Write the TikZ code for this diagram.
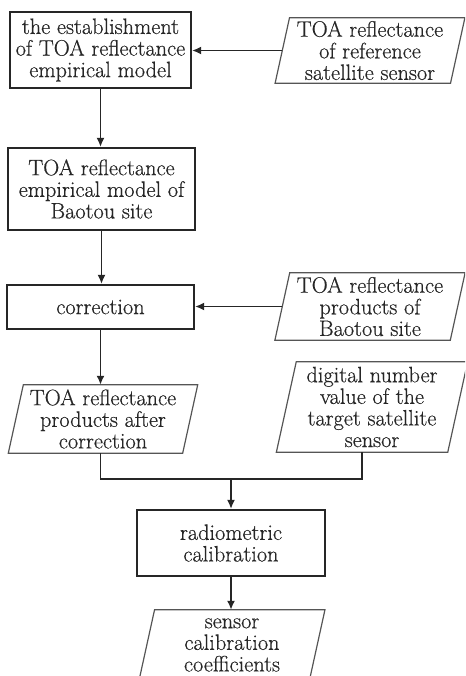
\documentclass[tikz,border=0pt]{standalone}
\usepackage{fontspec}
\setmainfont{Latin Modern Roman}[FakeBold=0.5]
\usetikzlibrary{arrows.meta,calc}
\definecolor{ink}{HTML}{262626}
\definecolor{edgegray}{HTML}{555555}
\begin{document}
\begin{tikzpicture}[x=1pt,y=-1pt,
  txt/.style={font=\fontsize{22.3}{21.6}\selectfont, text=ink, align=center, inner sep=0pt},
  procbox/.style={txt, draw=ink, line width=2.1pt},
  databox/.style={txt},
  dataedge/.style={draw=edgegray, line width=1.2pt, line join=miter},
  conn/.style={draw=ink, line width=1.8pt, -{Latex[length=9pt,width=8pt]}},
  joinline/.style={draw=ink, line width=1.8pt}]
\useasboundingbox (0,0) rectangle (465,676);
\clip (0,0) rectangle (465,676);

% process steps
\node[procbox, minimum width=181pt, minimum height=76pt] (est) at (100.5,50)
  {the establishment\\of TOA reflectance\\empirical model};
\node[procbox, minimum width=187pt, minimum height=82pt] (emp) at (101.5,189)
  {TOA reflectance\\empirical model of\\Baotou site};
\node[procbox, minimum width=187pt, minimum height=44pt] (corr) at (100.5,307)
  {correction};
\node[procbox, minimum width=188pt, minimum height=66pt] (rad) at (231,543)
  {radiometric\\calibration};

% data items (parallelograms drawn below)
\node[databox, minimum width=175pt, minimum height=65pt] (ref) at (370,50.5)
  {TOA reflectance\\of reference\\satellite sensor};
\node[databox, minimum width=175pt, minimum height=67pt] (prod) at (370,306.5)
  {TOA reflectance\\products of\\Baotou site};
\node[databox, minimum width=174pt, minimum height=68pt] (after) at (103,419)
  {TOA reflectance\\products after\\correction};
\node[databox, minimum width=171pt, minimum height=90pt] (dn) at (372,407)
  {digital number\\value of the\\target satellite\\sensor};
\node[databox, minimum width=170pt, minimum height=70pt] (coef) at (232,645)
  {sensor\\calibration\\coefficients};

% slanted outlines of the data items
\foreach \nd in {ref,prod,after,dn,coef}{
  \path[dataedge] let \p1=(\nd.north east), \p2=(\nd.south west),
    \n1={0.11*(\y1-\y2)} in
    ([xshift=\n1]\nd.north west) -- ([xshift=\n1]\nd.north east)
    -- ([xshift=-\n1]\nd.south east) -- ([xshift=-\n1]\nd.south west) -- cycle;
}

% connectors
\draw[conn] (ref.west) -- (ref.west -| est.east);
\draw[conn] (est.south) -- (est.south |- emp.north);
\draw[conn] (emp.south) -- (emp.south |- corr.north);
\draw[conn] (prod.west) -- (prod.west -| corr.east);
\draw[conn] (corr.south) -- (corr.south |- after.north);

\coordinate (j) at (rad.north |- 0,479);
\coordinate (dnfoot) at ([xshift=-10pt]dn.south);
\draw[joinline] (corr.south |- after.south) |- (j) -| (dnfoot);
\draw[conn] (j) -- (rad.north);
\draw[conn] (rad.south) -- (rad.south |- coef.north);
\end{tikzpicture}
\end{document}
